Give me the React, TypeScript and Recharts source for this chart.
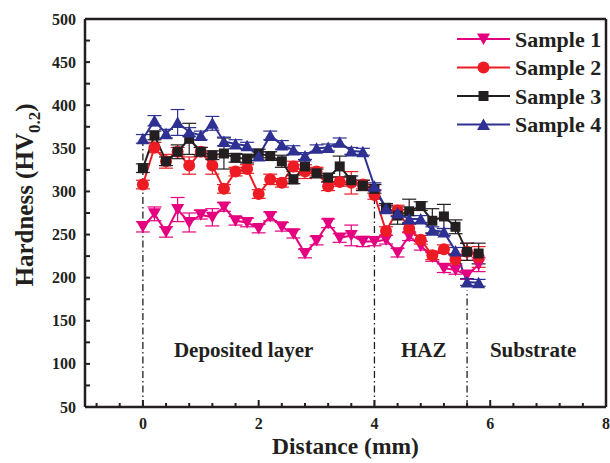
import React from 'react';
import { LineChart, Line, XAxis, YAxis, ErrorBar, ReferenceLine, ReferenceDot, Legend } from 'recharts';

const distance = [0, 0.2, 0.4, 0.6, 0.8, 1.0, 1.2, 1.4, 1.6, 1.8, 2.0, 2.2, 2.4, 2.6, 2.8, 3.0, 3.2, 3.4, 3.6, 3.8, 4.0, 4.2, 4.4, 4.6, 4.8, 5.0, 5.2, 5.4, 5.6, 5.8];
const sample1 = [259, 274, 253, 279, 264, 273, 270, 282, 266, 264, 257, 271, 259, 251, 228, 243, 263, 246, 249, 242, 242, 244, 229, 248, 237, 224, 211, 209, 203, 215];
const err1 = [6, 8, 6, 14, 11, 5, 10, 5, 5, 5, 5, 5, 5, 5, 5, 5, 5, 5, 12, 6, 5, 5, 5, 5, 5, 5, 5, 5, 5, 8];
const sample2 = [308, 351, 335, 346, 330, 346, 330, 303, 323, 326, 297, 314, 310, 329, 323, 323, 306, 311, 310, 308, 296, 254, 278, 257, 244, 226, 233, 221, 230, 224];
const err2 = [5, 6, 8, 5, 10, 5, 10, 5, 5, 5, 5, 6, 5, 6, 8, 5, 5, 5, 13, 5, 5, 5, 6, 5, 5, 5, 5, 5, 10, 12];
const sample3 = [327, 365, 335, 346, 361, 346, 342, 344, 339, 338, 344, 341, 335, 314, 329, 321, 316, 329, 313, 307, 303, 281, 272, 277, 283, 266, 271, 259, 230, 228];
const err3 = [5, 5, 5, 8, 18, 5, 5, 18, 5, 5, 5, 5, 7, 5, 8, 5, 5, 12, 5, 6, 5, 5, 10, 14, 5, 14, 14, 8, 10, 12];
const sample4 = [361, 382, 367, 380, 369, 365, 379, 358, 355, 353, 341, 365, 354, 348, 341, 350, 351, 357, 347, 346, 306, 280, 275, 268, 268, 255, 253, 231, 195, 194];
const err4 = [5, 6, 5, 15, 5, 5, 8, 5, 5, 4, 5, 5, 5, 5, 4, 4, 4, 5, 4, 4, 4, 4, 4, 4, 4, 4, 4, 4, 4, 4];

const seriesNames = ['Sample 1', 'Sample 2', 'Sample 3', 'Sample 4'];
const colors = ['#E5007F', '#ED1C24', '#231F20', '#2E3192'];

const xTicks = [-0.8, -0.4, 0, 0.4, 0.8, 1.2, 1.6, 2, 2.4, 2.8, 3.2, 3.6, 4, 4.4, 4.8, 5.2, 5.6, 6, 6.4, 6.8, 7.2, 7.6, 8];
const xLabels = [0, 2, 4, 6, 8];
const yTicks = [50, 75, 100, 125, 150, 175, 200, 225, 250, 275, 300, 325, 350, 375, 400, 425, 450, 475, 500];
const yLabels = [50, 100, 150, 200, 250, 300, 350, 400, 450, 500];

const boundaries = [
  { x: 0, top: 360 },
  { x: 4, top: 300 },
  { x: 5.6, top: 185 },
];
const regions = [
  { label: 'Deposited layer', x: 1.74, y: 116 },
  { label: 'HAZ', x: 4.85, y: 116 },
  { label: 'Substrate', x: 6.74, y: 116 },
];

const data = distance.map((d, i) => ({
  x: d,
  s1: sample1[i], e1: err1[i],
  s2: sample2[i], e2: err2[i],
  s3: sample3[i], e3: err3[i],
  s4: sample4[i], e4: err4[i],
}));

const FONT = '"Liberation Serif", "Times New Roman", serif';
const AXIS = '#231F20';

const shape = (kind: number, cx: number, cy: number, color: string, key?: any) => {
  if (kind === 0) {
    return <path key={key} d={`M${cx - 6.5},${cy - 5.5} L${cx + 6.5},${cy - 5.5} L${cx},${cy + 6} Z`} fill={color} />;
  }
  if (kind === 1) {
    return <circle key={key} cx={cx} cy={cy} r={6} fill={color} />;
  }
  if (kind === 2) {
    return <rect key={key} x={cx - 5} y={cy - 5} width={10} height={10} fill={color} />;
  }
  return <path key={key} d={`M${cx - 6.5},${cy + 5.5} L${cx + 6.5},${cy + 5.5} L${cx},${cy - 6} Z`} fill={color} />;
};

const makeDot = (kind: number, color: string) => (props: any) => {
  const { cx, cy, index } = props;
  if (cx == null || cy == null) return <g key={`d${kind}-${index}`} />;
  return shape(kind, cx, cy, color, `d${kind}-${index}`);
};

const XTick = (props: any) => {
  const { x, y, payload } = props;
  const v = Math.round(payload.value * 10) / 10;
  const major = xLabels.includes(v);
  return (
    <g>
      <line x1={x} x2={x} y1={y} y2={y - (major ? 7 : 4)} stroke={AXIS} strokeWidth={2} />
      {major && (
        <text x={x} y={y + 22} textAnchor="middle" fontFamily={FONT} fontWeight="bold" fontSize={16} fill={AXIS}>
          {v}
        </text>
      )}
    </g>
  );
};

const YTick = (props: any) => {
  const { x, y, payload } = props;
  const v = payload.value;
  const major = yLabels.includes(v);
  return (
    <g>
      <line x1={x} x2={x + 5} y1={y} y2={y} stroke={AXIS} strokeWidth={2} />
      {major && (
        <text x={x - 9} y={y + 5.5} textAnchor="end" fontFamily={FONT} fontWeight="bold" fontSize={16} fill={AXIS}>
          {v}
        </text>
      )}
    </g>
  );
};

const YTitle = () => (
  <text transform="translate(33,195) rotate(-90)" textAnchor="middle" fontFamily={FONT} fontWeight="bold" fontSize={25} fill={AXIS}>
    Hardness (HV<tspan fontSize={17} dy={7}>0.2</tspan><tspan dy={-7}>)</tspan>
  </text>
);

const XTitle = (props: any) => {
  const vb = props.viewBox || { x: 85, y: 407, width: 521 };
  return (
    <text x={vb.x + vb.width / 2} y={454} textAnchor="middle" fontFamily={FONT} fontWeight="bold" fontSize={23.5} fill={AXIS}>
      Distance (mm)
    </text>
  );
};

const LegendContent = () => (
  <svg width={160} height={120}>
    {seriesNames.map((name, i) => {
      const cy = 17 + i * 28.5;
      return (
        <g key={name}>
          <line x1={7} x2={60} y1={cy} y2={cy} stroke={colors[i]} strokeWidth={2} />
          {shape(i, 33.5, cy, colors[i])}
          <text x={65} y={cy + 7.5} fontFamily={FONT} fontWeight="bold" fontSize={22} fill={AXIS}>
            {name}
          </text>
        </g>
      );
    })}
  </svg>
);

const RegionLabel = (text: string) => (props: any) => {
  const vb = props.viewBox || {};
  const cx = vb.cx != null ? vb.cx : vb.x;
  const cy = vb.cy != null ? vb.cy : vb.y;
  return (
    <text x={cx} y={cy + 7} textAnchor="middle" fontFamily={FONT} fontWeight="bold" fontSize={21} fill={AXIS}>
      {text}
    </text>
  );
};

export default function App() {
  const keys = ['s1', 's2', 's3', 's4'];
  const errs = ['e1', 'e2', 'e3', 'e4'];
  return (
    <div style={{ position: 'absolute', left: 0, top: 0 }}>
      <LineChart width={610} height={463} data={data} margin={{ top: 19, right: 4, bottom: 0, left: 0 }}>
        <XAxis
          type="number"
          dataKey="x"
          domain={[-1, 8]}
          ticks={xTicks}
          interval={0}
          allowDataOverflow
          tickLine={false}
          tickSize={0}
          tickMargin={0}
          tick={<XTick />}
          height={56}
          axisLine={{ stroke: AXIS, strokeWidth: 2.5 }}
          label={<XTitle />}
        />
        <YAxis
          type="number"
          domain={[50, 500]}
          ticks={yTicks}
          interval={0}
          allowDataOverflow
          tickLine={false}
          tickSize={0}
          tickMargin={0}
          tick={<YTick />}
          width={85}
          axisLine={{ stroke: AXIS, strokeWidth: 2.5 }}
          label={<YTitle />}
        />
        <ReferenceLine y={500} stroke={AXIS} strokeWidth={2.5} />
        <ReferenceLine x={8} stroke={AXIS} strokeWidth={2.5} />
        {boundaries.map((b) => (
          <ReferenceLine
            key={b.x}
            segment={[{ x: b.x, y: 50 }, { x: b.x, y: b.top }]}
            stroke={AXIS}
            strokeWidth={1.3}
            strokeDasharray="7 3 1.5 3"
          />
        ))}
        {regions.map((r) => (
          <ReferenceDot key={r.label} x={r.x} y={r.y} r={0} fill="none" stroke="none" ifOverflow="visible" label={RegionLabel(r.label)} />
        ))}
        {keys.map((k, i) => (
          <Line
            key={k}
            type="linear"
            dataKey={k}
            name={seriesNames[i]}
            stroke={colors[i]}
            strokeWidth={2}
            dot={makeDot(i, colors[i])}
            activeDot={false}
            isAnimationActive={false}
          >
            <ErrorBar dataKey={errs[i]} width={7} stroke={colors[i]} strokeWidth={1.2} direction="y" isAnimationActive={false} />
          </Line>
        ))}
        <Legend
          layout="horizontal"
          verticalAlign="middle"
          align="center"
          content={<LegendContent />}
          wrapperStyle={{ position: 'absolute', top: 22, left: 450, width: 160, height: 120 }}
        />
      </LineChart>
    </div>
  );
}
